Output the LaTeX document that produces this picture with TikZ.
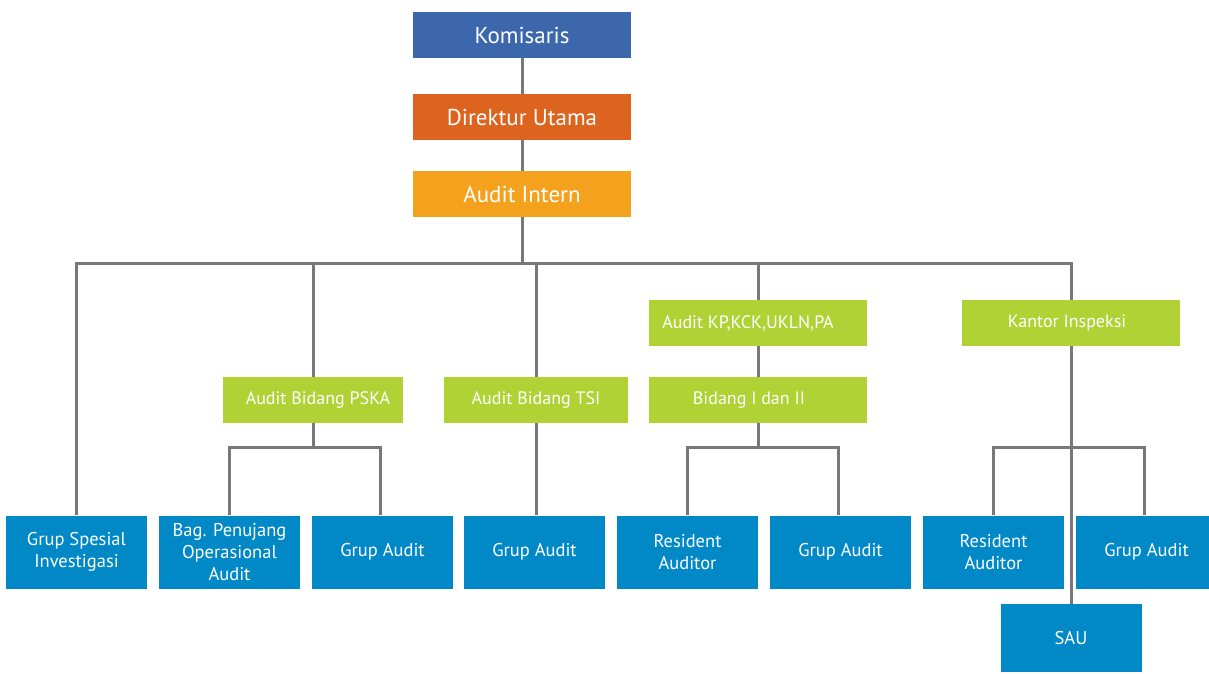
\documentclass[tikz,border=0pt]{standalone}
\usepackage{fontspec}
\setmainfont{PT Sans}
\usetikzlibrary{backgrounds}
\definecolor{kblue}{HTML}{3D67AD}
\definecolor{korange}{HTML}{DC641E}
\definecolor{kamber}{HTML}{F4A11D}
\definecolor{kgreen}{HTML}{B1D235}
\definecolor{kcyan}{HTML}{0088C7}
\definecolor{kline}{HTML}{77787B}
\tikzset{
  topbox/.style={draw=none, inner sep=0pt, minimum width=218pt, minimum height=46pt,
    text=white, font=\fontsize{23}{27}\selectfont},
  midbox/.style={draw=none, fill=kgreen, inner sep=0pt, minimum height=46pt},
  midtxt/.style={text=white, inner sep=0pt, font=\fontsize{18}{22}\selectfont},
  lowbox/.style={draw=none, fill=kcyan, inner sep=0pt, minimum width=141pt, minimum height=73pt,
    text=white, align=center, font=\fontsize{18.5}{22}\selectfont},
  link/.style={draw=kline, line width=3pt}
}
\begin{document}
\begin{tikzpicture}[x=1pt, y=-1pt]
\clip (0,0) rectangle (1209,673);

% top of the hierarchy
\node[topbox, fill=kblue]   (kom) at (522,35)  {Komisaris};
\node[topbox, fill=korange] (dir) at (522,117) {Direktur Utama};
\node[topbox, fill=kamber]  (ai)  at (522,194) {Audit Intern};

% second level units
\node[midbox, minimum width=180pt] (pska) at (313,400)
  {}; \node[midtxt] (pskat) at (318,400) {Audit Bidang PSKA};
\node[midbox, minimum width=184pt] (tsi) at (536,400)
  {}; \node[midtxt] (tsit) at (536,400) {Audit Bidang TSI};
\node[midbox, minimum width=218pt] (kp) at (758,323)
  {}; \node[midtxt] (kpt) at (748,323) {Audit KP,KCK,UKLN,PA};
\node[midbox, minimum width=218pt] (bid) at (758,400)
  {}; \node[midtxt] (bidt) at (749,400) {Bidang I dan II};
\node[midbox, minimum width=218pt] (kan) at (1071,323)
  {}; \node[midtxt] (kant) at (1067,323) {Kantor Inspeksi};

% operating groups
\node[lowbox] (gsi) at (76.5,552)  {Grup Spesial\\Investigasi};
\node[lowbox] (bpo) at (229.5,552) {Bag. Penujang\\Operasional\\Audit};
\node[lowbox] (ga1) at (382.5,552) {Grup Audit};
\node[lowbox] (ga2) at (534.5,552) {Grup Audit};
\node[lowbox] (ra1) at (687.5,552) {Resident\\Auditor};
\node[lowbox] (ga3) at (840.5,552) {Grup Audit};
\node[lowbox] (ra2) at (993.5,552) {Resident\\Auditor};
\node[lowbox] (ga4) at (1146.5,552) {Grup Audit};
\node[lowbox, minimum height=68pt] (sau) at (1071,638) {SAU};

% junction points of the tree
\coordinate (hub) at (522,263);
\coordinate (j1) at (313,447);
\coordinate (j2) at (758,447);
\coordinate (j3) at (1071,447);

\begin{scope}[on background layer]
  \fill[white] (0,0) rectangle (1209,673);
  \draw[link] (kom.south) -- (dir.north);
  \draw[link] (dir.south) -- (ai.north);
  \draw[link] (ai.south) -- (hub);
  \draw[link] (gsi.north) |- (hub) -| (kan.north);
  \draw[link] (pska.north) -- (pska.north |- hub);
  \draw[link] (tsi.north) -- (tsi.north |- hub);
  \draw[link] (kp.north) -- (kp.north |- hub);
  \draw[link] (kp.south) -- (bid.north);
  \draw[link] (tsi.south) -- (tsi.south |- ga2.north);
  \draw[link] (pska.south) -- (j1);
  \draw[link] (bpo.north) |- (j1) -| ([xshift=-2pt]ga1.north);
  \draw[link] (bid.south) -- (j2);
  \draw[link] (ra1.north) |- (j2) -| ([xshift=-2pt]ga3.north);
  \draw[link] (kan.south) -- (sau.north);
  \draw[link] (ra2.north) |- (j3) -| ([xshift=-2pt]ga4.north);
\end{scope}
\end{tikzpicture}
\end{document}
